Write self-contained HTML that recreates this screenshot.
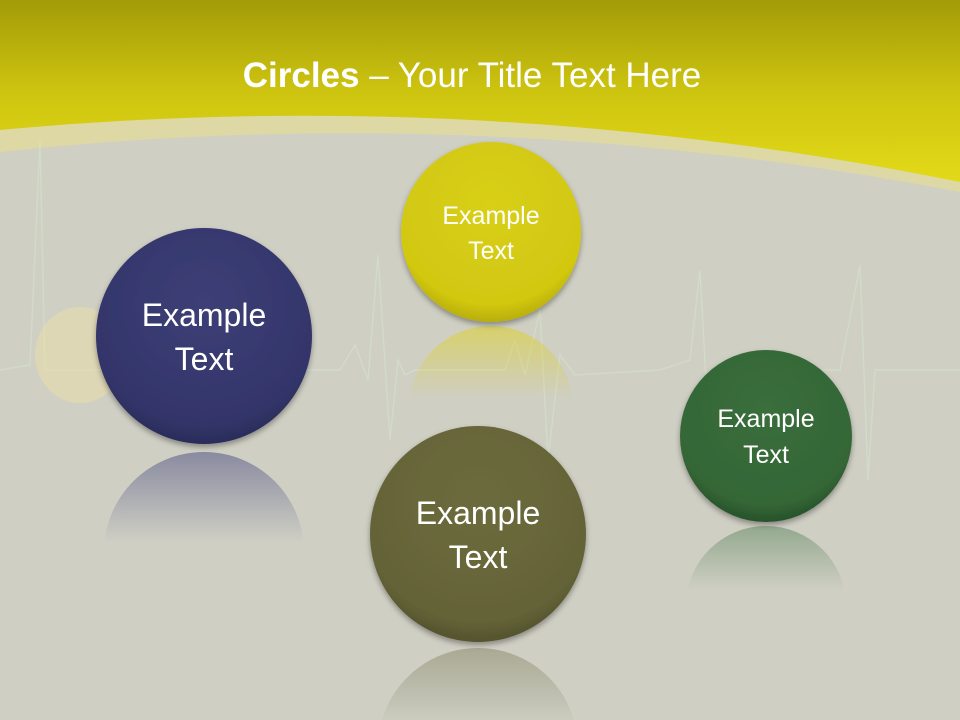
<!DOCTYPE html>
<html><head><style>
html,body{margin:0;width:960px;height:720px;overflow:hidden;background:#cfcfc4}
svg{display:block;overflow:hidden}
text{font-family:"Liberation Sans",sans-serif;fill:#fff}
</style></head><body>
<svg width="960" height="720" viewBox="0 0 960 720">
<defs>
<linearGradient id="top" x1="0" y1="0" x2="0" y2="1">
<stop offset="0" stop-color="#a39b08"/><stop offset="0.5" stop-color="#cdc410"/><stop offset="1" stop-color="#e2da18"/>
</linearGradient>
<radialGradient id="navy" cx="0.5" cy="0.35" r="0.65"><stop offset="0" stop-color="#3d3f76"/><stop offset="0.85" stop-color="#33356a"/><stop offset="1" stop-color="#2a2c5a"/></radialGradient>
<radialGradient id="yel" cx="0.5" cy="0.35" r="0.65"><stop offset="0" stop-color="#d8cf16"/><stop offset="0.85" stop-color="#d2c811"/><stop offset="1" stop-color="#b8ae08"/></radialGradient>
<radialGradient id="oli" cx="0.5" cy="0.35" r="0.65"><stop offset="0" stop-color="#6b6b3c"/><stop offset="0.85" stop-color="#646338"/><stop offset="1" stop-color="#54532c"/></radialGradient>
<radialGradient id="grn" cx="0.5" cy="0.35" r="0.65"><stop offset="0" stop-color="#3a6e3c"/><stop offset="0.85" stop-color="#346636"/><stop offset="1" stop-color="#27522a"/></radialGradient>
<linearGradient id="rn" x1="0" y1="0" x2="0" y2="1"><stop offset="0" stop-color="#5a5c88" stop-opacity="0.6"/><stop offset="0.45" stop-color="#5a5c88" stop-opacity="0"/></linearGradient>
<linearGradient id="ry" x1="0" y1="0" x2="0" y2="1"><stop offset="0" stop-color="#dcd030" stop-opacity="0.6"/><stop offset="0.45" stop-color="#dcd030" stop-opacity="0"/></linearGradient>
<linearGradient id="ro" gradientUnits="userSpaceOnUse" x1="0" y1="648" x2="0" y2="728"><stop offset="0" stop-color="#7a7a58" stop-opacity="0.45"/><stop offset="1" stop-color="#7a7a58" stop-opacity="0"/></linearGradient>
<linearGradient id="rg" x1="0" y1="0" x2="0" y2="1"><stop offset="0" stop-color="#4a7a4c" stop-opacity="0.45"/><stop offset="0.4" stop-color="#4a7a4c" stop-opacity="0"/></linearGradient>
<filter id="sh"><feDropShadow dx="0" dy="3" stdDeviation="3" flood-opacity="0.35"/></filter>
</defs>
<rect width="960" height="720" fill="#cfcfc4"/>
<path d="M0 152 Q480 100 960 192 L960 0 L0 0Z" fill="#e4dc98" opacity="0.7"/>
<path d="M0 130 Q480 85 960 182 L960 0 L0 0Z" fill="url(#top)"/>
<polyline points="0,370 30,365 40,140 45,370 340,370 355,345 368,380 378,255 390,440 398,360 405,375 415,370 505,370 515,340 525,375 540,310 548,460 560,355 575,375 660,370 690,360 700,270 706,380 720,370 840,370 860,265 868,480 875,370 960,370" fill="none" stroke="#d6e8cc" stroke-width="1.5" opacity="0.5"/>
<ellipse cx="80" cy="355" rx="45" ry="48" fill="#ece0a8" opacity="0.5"/>
<circle cx="204" cy="552" r="100" fill="url(#rn)"/>
<circle cx="491" cy="408" r="82" fill="url(#ry)"/>
<path d="M382 720 A100 100 0 0 1 574 720 Z" fill="url(#ro)"/>
<circle cx="766" cy="606" r="80" fill="url(#rg)"/>
<g filter="url(#sh)">
<circle cx="204" cy="336" r="108" fill="url(#navy)"/>
<circle cx="491" cy="232" r="90" fill="url(#yel)"/>
<circle cx="478" cy="534" r="108" fill="url(#oli)"/>
<circle cx="766" cy="436" r="86" fill="url(#grn)"/>
</g>
<text x="472" y="87" text-anchor="middle" font-size="35"><tspan font-weight="bold">Circles</tspan> – Your Title Text Here</text>
<g text-anchor="middle">
<text x="204" y="326" font-size="32">Example</text><text x="204" y="370" font-size="32">Text</text>
<text x="491" y="224" font-size="25">Example</text><text x="491" y="259" font-size="25">Text</text>
<text x="478" y="524" font-size="32">Example</text><text x="478" y="568" font-size="32">Text</text>
<text x="766" y="427" font-size="25">Example</text><text x="766" y="463" font-size="25">Text</text>
</g>
</svg>
</body></html>
